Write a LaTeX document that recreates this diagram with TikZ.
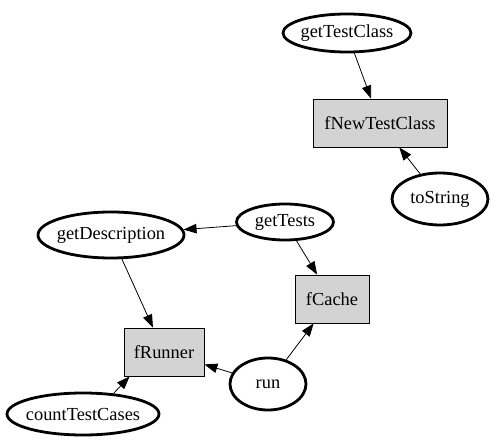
\documentclass[tikz,border=0pt]{standalone}
\usepackage{fontspec}
\setmainfont{Liberation Serif}
\usetikzlibrary{shapes.geometric,arrows.meta}
\newcommand\ztxt[1]{\makebox[0pt]{#1}}
\begin{document}
\begin{tikzpicture}[x=1pt,y=-1pt,
  every node/.style={font=\fontsize{18.4}{22}\selectfont},
  oval/.style={ellipse,draw=black,line width=2.8pt,inner sep=0pt},
  gbox/.style={rectangle,draw=black,fill={rgb,255:red,211;green,211;blue,211},line width=0.8pt,inner sep=0pt},
  edge/.style={draw=black,line width=0.8pt,-{Triangle[length=13pt,width=9.5pt]}}]
\useasboundingbox (0,0) rectangle (496,444);
\node[oval,minimum width=128pt,minimum height=38pt] (gtc) at (347,33) {\ztxt{getTestClass}};
\node[gbox,minimum width=134pt,minimum height=48pt] (fntc) at (380,123) {fNewTestClass};
\node[oval,minimum width=96pt,minimum height=52pt] (ts) at (440,199) {\ztxt{toString}};
\node[oval,minimum width=97pt,minimum height=36pt] (gt) at (285,222) {\ztxt{getTests}};
\node[oval,minimum width=146pt,minimum height=46pt] (gd) at (111,235) {\ztxt{getDescription}};
\node[gbox,minimum width=74pt,minimum height=48pt] (fc) at (332,299) {fCache};
\node[gbox,minimum width=80pt,minimum height=48pt] (fr) at (164,352) {fRunner};
\node[oval,minimum width=76pt,minimum height=52pt] (run) at (268,384) {\ztxt{run}};
\node[oval,minimum width=152pt,minimum height=42pt] (ctc) at (83,414) {\ztxt{countTestCases}};
\draw[edge] (gtc) -- (fntc);
\draw[edge] (ts) -- (fntc);
\draw[edge] (gt) -- (gd);
\draw[edge] (gt) -- (fc);
\draw[edge] (gd) -- (fr);
\draw[edge] (run) -- (fr);
\draw[edge] (run) -- (fc);
\draw[edge] (ctc.34) -- ([xshift=6pt]fr.south west);
\end{tikzpicture}
\end{document}
